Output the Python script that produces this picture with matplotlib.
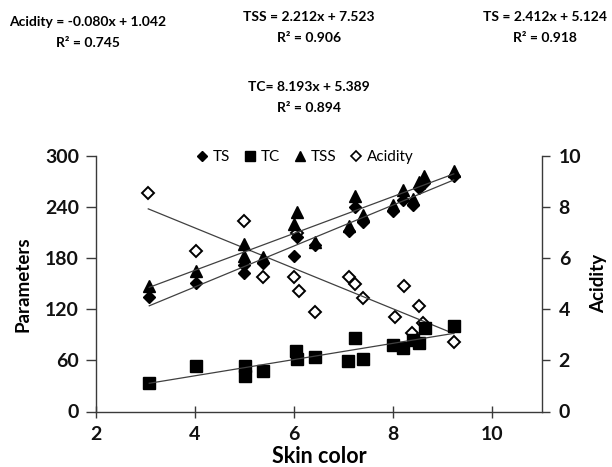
import numpy as np
import matplotlib
matplotlib.use("Agg")
import matplotlib.pyplot as plt
from matplotlib.lines import Line2D

plt.rcParams['font.family'] = ['Lato', 'DejaVu Sans']

# ---- data ----
ts_x = [3.08, 4.03, 5.0, 5.0, 5.38, 6.0, 6.06, 6.43, 7.1, 7.22, 7.4, 8.0, 8.2, 8.4, 8.52, 8.62, 9.22]
ts_y = [134, 151, 163, 172, 174, 182, 205, 195, 212, 240, 223, 236, 248, 243, 262, 268, 277]

tss_x = [3.08, 4.03, 5.0, 5.0, 5.38, 6.0, 6.06, 6.43, 7.1, 7.22, 7.4, 8.0, 8.2, 8.4, 8.52, 8.62, 9.22]
tss_y = [147, 165, 183, 197, 181, 220, 234, 199, 218, 253, 231, 242, 260, 250, 270, 276, 282]

tc_x = [3.08, 4.03, 5.02, 5.02, 5.37, 6.03, 6.06, 6.43, 7.09, 7.22, 7.39, 8.0, 8.2, 8.4, 8.52, 8.64, 9.22]
tc_y = [34, 53, 53, 42, 48, 71, 62, 64, 59, 86, 62, 78, 75, 84, 80, 98, 100]

acid_x = [3.06, 4.03, 5.0, 5.38, 6.0, 6.09, 6.06, 6.43, 7.1, 7.22, 7.4, 8.03, 8.21, 8.37, 8.51, 8.61, 9.22]
acid_y = [8.55, 6.28, 7.46, 5.27, 5.27, 4.72, 7.0, 3.90, 5.26, 4.99, 4.44, 3.70, 4.91, 3.07, 4.13, 3.46, 2.72]

x_ticks = [2, 4, 6, 8, 10]
left_ticks = [0, 60, 120, 180, 240, 300]
right_ticks = [0, 2, 4, 6, 8, 10]

equations = [
    ("Acidity = -0.080x + 1.042", "R\u00b2 = 0.745", 88, 22),
    ("TSS = 2.212x + 7.523", "R\u00b2 = 0.906", 309, 17),
    ("TS = 2.412x + 5.124", "R\u00b2 = 0.918", 545, 17),
    ("TC= 8.193x + 5.389", "R\u00b2 = 0.894", 309, 87),
]

W, H = 612, 467
fig = plt.figure(figsize=(W / 100, H / 100), dpi=100)
ax = fig.add_axes([95.7 / W, 1 - 411.5 / H, (542 - 95.7) / W, (411.5 - 156) / H])
ax2 = ax.twinx()
# primary series are drawn above the secondary (acidity) series
ax.set_zorder(ax2.get_zorder() + 1)
ax.patch.set_visible(False)

line_col = '#3a3a3a'
trend_col = '#404040'


def trend(a, xs, ys):
    xs = np.asarray(xs, float)
    ys = np.asarray(ys, float)
    k, b = np.polyfit(xs, ys, 1)
    xx = np.array([xs.min(), xs.max()])
    a.plot(xx, k * xx + b, color=trend_col, lw=0.9, zorder=4)


ax.plot(ts_x, ts_y, 'D', ms=5.9, color='black', mec='black', zorder=3)
ax.plot(tc_x, tc_y, 's', ms=8.6, color='black', mec='black', zorder=3)
ax.plot(tss_x, tss_y, '^', ms=8.3, color='black', mec='black', zorder=3)
trend(ax, ts_x, ts_y)
trend(ax, tc_x, tc_y)
trend(ax, tss_x, tss_y)

ax2.plot(acid_x, acid_y, 'D', ms=6.6, mfc='white', mec='black', mew=1.4, zorder=3)
trend(ax2, acid_x, acid_y)

ax.set_xlim(2, 11)
ax.set_ylim(0, 300)
ax2.set_ylim(0, 10)
ax.set_xticks(x_ticks)
ax.set_yticks(left_ticks)
ax2.set_yticks(right_ticks)

for a in (ax, ax2):
    a.spines['top'].set_visible(False)
    for s in a.spines.values():
        s.set_color(line_col)
        s.set_linewidth(1.0)
ax.spines['right'].set_visible(False)
ax2.spines['left'].set_visible(False)
ax2.spines['bottom'].set_visible(False)

ax.tick_params(axis='x', direction='inout', length=9, width=1, color=line_col, pad=6)
ax.tick_params(axis='y', direction='out', length=7, width=1, color=line_col, pad=5)
ax2.tick_params(axis='y', direction='out', length=6, width=1, color=line_col, pad=6)
for lab in ax.get_xticklabels() + ax.get_yticklabels() + ax2.get_yticklabels():
    lab.set_fontsize(14)
    lab.set_fontweight('bold')
    lab.set_color('#111111')

ax.set_xlabel('Skin color', fontsize=15.5, fontweight='bold', labelpad=2)
ax.set_ylabel('Parameters', fontsize=13.5, fontweight='bold', labelpad=10)
ax2.set_ylabel('Acidity', fontsize=13.5, fontweight='bold', labelpad=6)

handles = [
    Line2D([], [], ls='none', marker='D', ms=5, color='black'),
    Line2D([], [], ls='none', marker='s', ms=7, color='black'),
    Line2D([], [], ls='none', marker='^', ms=7, color='black'),
    Line2D([], [], ls='none', marker='D', ms=5.5, mfc='white', mec='black', mew=1.2),
]
ax.legend(handles, ['TS', 'TC', 'TSS', 'Acidity'], ncol=4, loc='center',
          bbox_to_anchor=(0.469, 0.995), frameon=False, fontsize=11,
          handlelength=0.8, handletextpad=0.3, columnspacing=0.9, borderpad=0)

for eq, r2, cx, cy in equations:
    fig.text(cx / W, 1 - cy / H, eq, ha='center', va='center', fontsize=10, fontweight='bold')
    fig.text(cx / W, 1 - (cy + 21) / H, r2, ha='center', va='center', fontsize=10, fontweight='bold')

fig.savefig('out.png', dpi=100)
